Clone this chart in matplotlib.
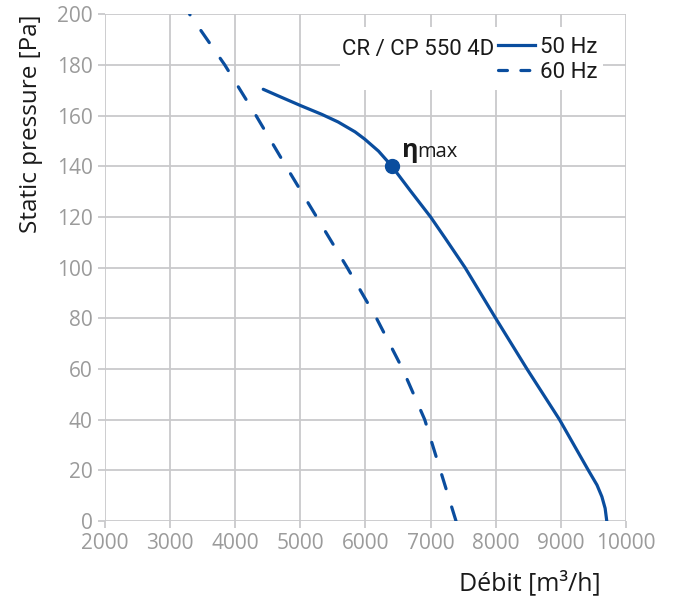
import matplotlib
matplotlib.use("Agg")
import numpy as np
import matplotlib.pyplot as plt
from matplotlib.lines import Line2D
from matplotlib.patches import Rectangle

plt.rcParams['font.family'] = ['Open Sans', 'DejaVu Sans']

# 50 Hz curve (solid)
flow_50 = [4430, 4660, 5010, 5330, 5580, 5840, 5990, 6200, 6400, 6685, 7000,
           7225, 7530, 8000, 8480, 8980, 9250, 9425, 9555, 9630, 9680, 9705]
pres_50 = [170.4, 167.8, 163.9, 160.5, 157.5, 153.6, 150.7, 146.0, 140.2, 130.5,
           120.0, 111.6, 100, 80, 60, 40, 27.8, 19.9, 14.2, 9.6, 5.0, 0]

# 60 Hz curve (dashed), listed from the bottom end up
flow_60 = [7390, 7150, 6910, 6570, 6170, 5720, 5250, 4780, 4320, 3840, 3300]
pres_60 = [0, 20, 40, 60, 80, 100, 120, 140, 160, 180, 200]

# max efficiency point
eta_flow, eta_pres = 6400, 140

x_ticks = [2000, 3000, 4000, 5000, 6000, 7000, 8000, 9000, 10000]
y_ticks = [0, 20, 40, 60, 80, 100, 120, 140, 160, 180, 200]

blue = '#0a4d9e'
grid_c = '#c9c9cb'
text_c = '#1a1a1a'
lw = 2.3

fig = plt.figure(figsize=(6.76, 6.01), dpi=100)
ax = fig.add_axes([0.1553, 0.1331, 0.7707, 0.8431])
ax.set_xlim(2000, 10000)
ax.set_ylim(0, 200)

# fit the dash pattern so the dashed curve ends on a dot at the top
pts = ax.transData.transform(np.column_stack([flow_60, pres_60]))
length = np.hypot(*np.diff(pts, axis=0).T).sum() * 72 / fig.dpi / lw
dash = 4.6
n = round(length / 10.6)
gap = (length - 0.2) / n - dash

ax.plot(flow_50, pres_50, color=blue, lw=lw, solid_capstyle='round',
        solid_joinstyle='round', zorder=4)
ax.plot(flow_60, pres_60, color=blue, lw=lw, ls=(0, (dash, gap)),
        dash_capstyle='round', zorder=4)
ax.plot(eta_flow, eta_pres, 'o', color=blue, ms=10, zorder=5)
ax.text(eta_flow + 158, eta_pres + 3.8, 'η', fontsize=18, fontweight='bold',
        color=text_c, va='baseline', ha='left')
ax.text(eta_flow + 393, eta_pres + 3.8, 'max', fontsize=14.5,
        color=text_c, va='baseline', ha='left')

ax.set_xticks(x_ticks)
ax.set_yticks(y_ticks)
ax.grid(True, color=grid_c, lw=1.3, zorder=0)
ax.set_axisbelow(True)
for s in ax.spines.values():
    s.set_visible(False)
ax.tick_params(colors=grid_c, labelcolor='#9b9b9b', labelsize=15,
               length=5, width=1.3)
ax.tick_params(axis='y', pad=4)
ax.tick_params(axis='x', pad=3.5)

ax.set_ylabel('Static pressure [Pa]', fontsize=17.5, color=text_c,
              labelpad=9.5, loc='top')
fig.text(0.784, 0.030, 'Débit [m³/h]', fontsize=18, color=text_c,
         ha='center', va='center')

# legend block with white background
ax.add_patch(Rectangle((0.451, 0.851), 0.505, 0.124, transform=ax.transAxes,
                       facecolor='white', edgecolor='none', zorder=2))
ax.text(0.454, 0.931, 'CR / CP 550 4D', transform=ax.transAxes, fontsize=16,
        family=['Roboto', 'DejaVu Sans'], color=text_c, va='center', ha='left',
        zorder=6)
handles = [Line2D([], [], color=blue, lw=lw),
           Line2D([], [], color=blue, lw=lw, ls=(0, (2.8, 4.2)),
                  dash_capstyle='round')]
leg = ax.legend(handles, ['50 Hz', '60 Hz'], loc='upper left',
                bbox_to_anchor=(0.754, 0.956), frameon=False,
                prop={'family': ['Roboto', 'DejaVu Sans'], 'size': 16},
                handlelength=1.67, handletextpad=0.22, labelspacing=0.2,
                borderaxespad=0, borderpad=0)
for t in leg.get_texts():
    t.set_color(text_c)

fig.savefig('out.png', dpi=100)
